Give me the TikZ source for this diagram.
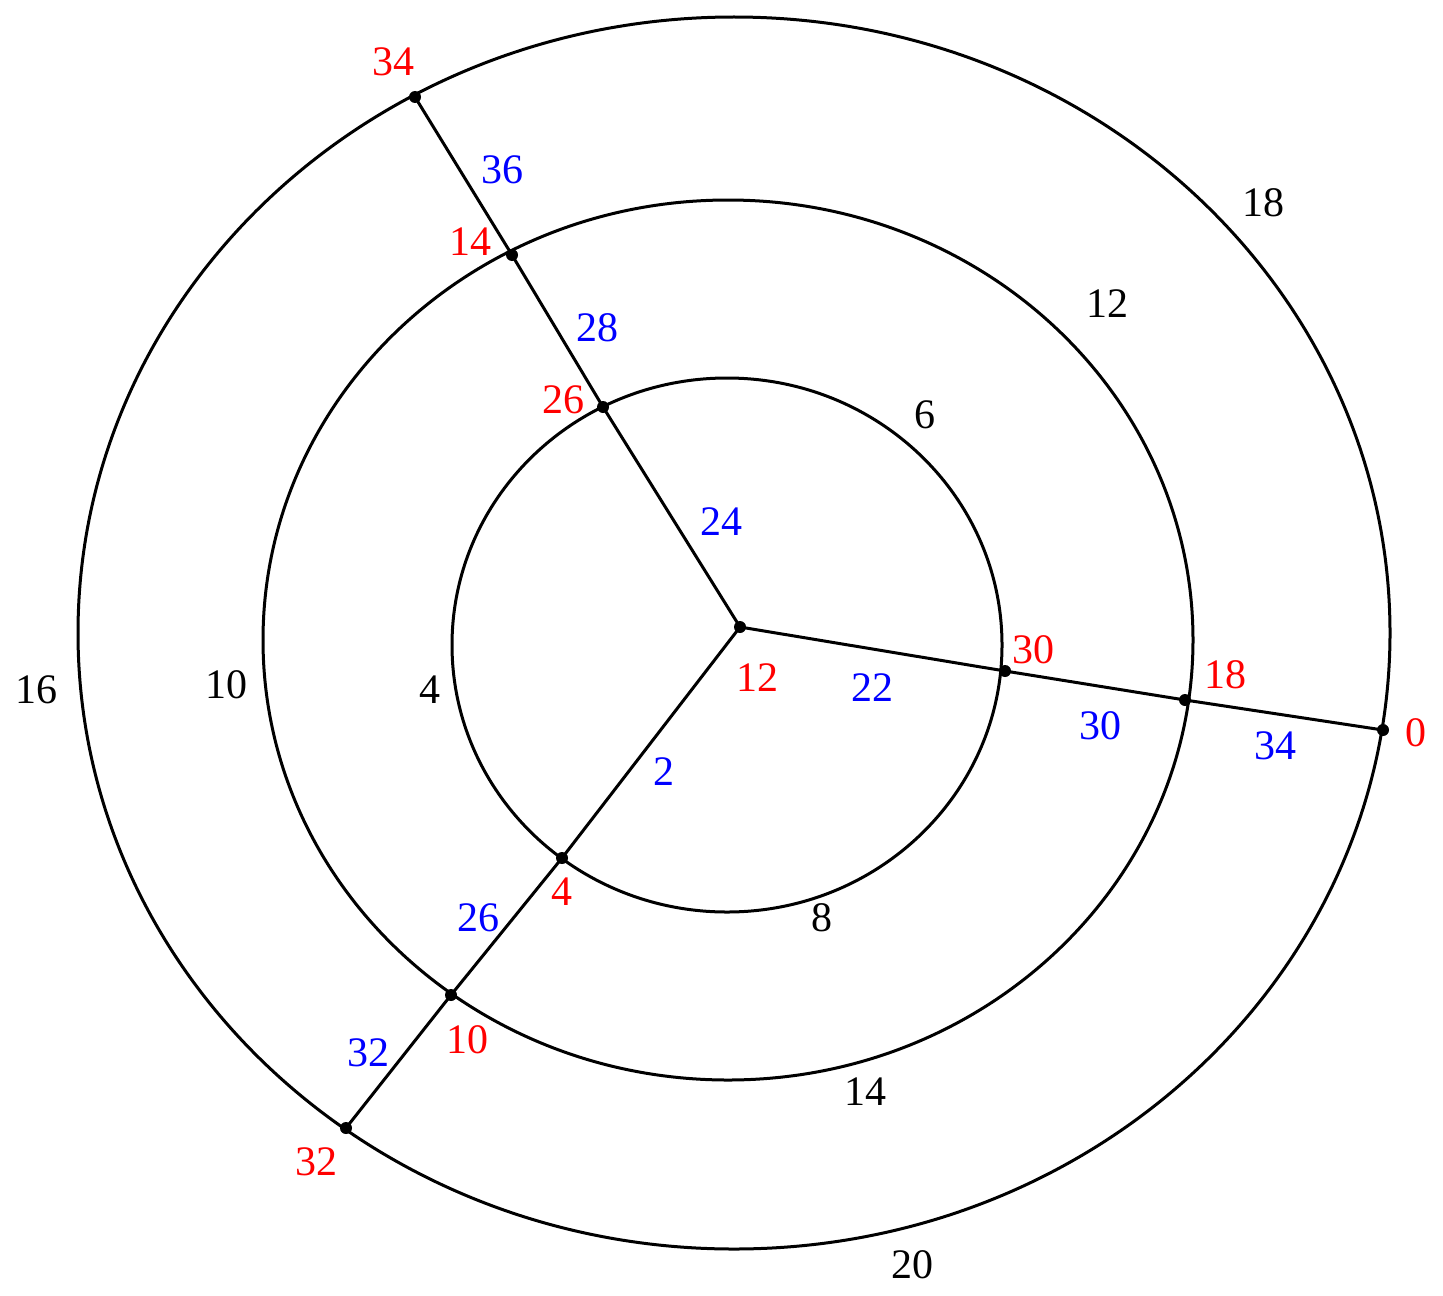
\documentclass[tikz,border=0pt]{standalone}
\usepackage{fontspec}
\setmainfont{Liberation Serif}
\tikzset{every picture/.style={line width=1.5pt}}
\tikzset{
  vdot/.style={circle,fill=black,inner sep=0pt,minimum size=6pt},
  vlab/.style={text=red,inner sep=0.75pt,font=\fontsize{21}{25}\selectfont},
  elab/.style={text=blue,inner sep=0.75pt,font=\fontsize{21}{25}\selectfont},
  rlab/.style={text=black,inner sep=0.75pt,font=\fontsize{21}{25}\selectfont}
}

\begin{document}
\begin{tikzpicture}[x=0.5pt,y=0.5pt,yscale=-1,xscale=1]
    \useasboundingbox (0,0) rectangle (1443,1295);

    %Shape: Ellipse [outer]
    \draw (734,633) ellipse [x radius=656, y radius=616];
    %Shape: Ellipse [middle]
    \draw (728,640) ellipse [x radius=465, y radius=440];
    %Shape: Ellipse [inner]
    \draw (727,645) ellipse [x radius=275, y radius=267];

    % vertices
    \node [vdot] (c) at (740,627) {};
    \node [vdot] (i1) at (603,407) {};
    \node [vdot] (m1) at (512,255) {};
    \node [vdot] (o1) at (415,97) {};
    \node [vdot] (i2) at (1005,671) {};
    \node [vdot] (m2) at (1185,700) {};
    \node [vdot] (o2) at (1383,730) {};
    \node [vdot] (i3) at (562,858) {};
    \node [vdot] (m3) at (451,995) {};
    \node [vdot] (o3) at (346,1128) {};

    %Straight Lines [spokes]
    \draw (c.center) -- (i1.center) -- (m1.center) -- (o1.center);
    \draw (c.center) -- (i2.center) -- (m2.center) -- (o2.center);
    \draw (c.center) -- (i3.center) -- (m3.center) -- (o3.center);

    % Text Node [vertex labels]
    \node [vlab] (v34) at (393,62) {34};
    \node [vlab] (v14) at (470,242) {14};
    \node [vlab] (v26) at (563,400) {26};
    \node [vlab] (v12) at (757,678) {12};
    \node [vlab] (v30) at (1033,650) {30};
    \node [vlab] (v18) at (1225,675) {18};
    \node [vlab] (v0) at (1416,733) {0};
    \node [vlab] (v4) at (562,892) {4};
    \node [vlab] (v10) at (467,1040) {10};
    \node [vlab] (v32) at (316,1162) {32};

    % Text Node [edge labels]
    \node [elab] (e36) at (502,170) {36};
    \node [elab] (e28) at (597,328) {28};
    \node [elab] (e24) at (721,522) {24};
    \node [elab] (e22) at (872,688) {22};
    \node [elab] (e30) at (1100,726) {30};
    \node [elab] (e34) at (1275,746) {34};
    \node [elab] (e2) at (664,772) {2};
    \node [elab] (e26) at (478,918) {26};
    \node [elab] (e32) at (368,1053) {32};

    % Text Node [ring labels]
    \node [rlab] (r18) at (1263,203) {18};
    \node [rlab] (r12) at (1107,304) {12};
    \node [rlab] (r6) at (925,415) {6};
    \node [rlab] (r16) at (36,690) {16};
    \node [rlab] (r10) at (226,685) {10};
    \node [rlab] (r4) at (430,690) {4};
    \node [rlab] (r8) at (822,918) {8};
    \node [rlab] (r14) at (865,1092) {14};
    \node [rlab] (r20) at (912,1265) {20};
\end{tikzpicture}
\end{document}
